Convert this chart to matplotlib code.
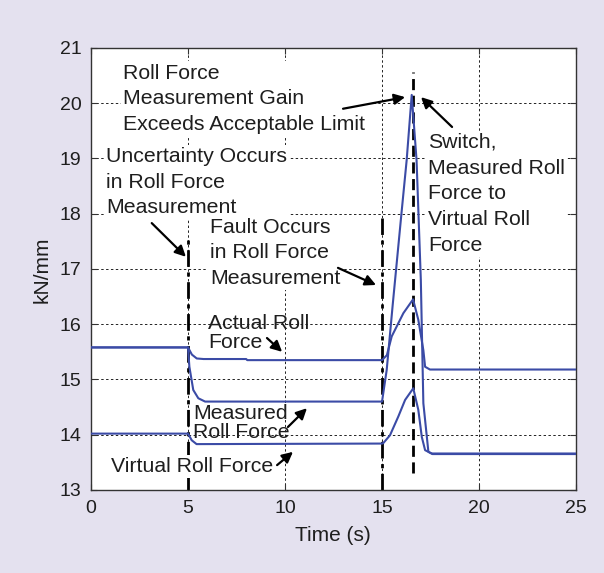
import matplotlib
matplotlib.use("Agg")
import matplotlib.pyplot as plt

plt.rcParams['font.family'] = ['Liberation Sans', 'DejaVu Sans']

# curves (time in s, force in kN/mm)
t_actual = [0, 5.0, 5.2, 5.45, 5.8, 8.0, 8.05, 15.0, 15.25, 15.5, 16.1, 16.6, 16.87, 17.13, 17.22, 17.47, 25]
actual = [15.58, 15.58, 15.45, 15.38, 15.37, 15.37, 15.35, 15.35, 15.44, 15.78, 16.2, 16.45, 16.08, 15.53, 15.23, 15.18, 15.18]

t_measured = [0, 5.0, 5.07, 5.27, 5.53, 5.88, 15.0, 15.24, 15.55, 16.0, 16.27, 16.53, 16.78, 17.0, 17.13, 17.39, 17.6, 25]
measured = [15.58, 15.58, 15.23, 14.81, 14.66, 14.6, 14.6, 15.17, 16.35, 18.0, 18.97, 20.15, 18.97, 16.8, 14.57, 13.69, 13.65, 13.65]

t_virtual = [0, 5.0, 5.19, 5.44, 15.0, 15.07, 15.41, 15.84, 16.19, 16.61, 16.87, 17.05, 17.22, 17.56, 25]
virtual = [14.02, 14.02, 13.9, 13.83, 13.84, 13.85, 13.99, 14.33, 14.63, 14.84, 14.45, 13.96, 13.72, 13.66, 13.66]

# event markers: time, from, to
events = [(5.0, 13.0, 17.55), (15.0, 13.0, 17.92), (16.6, 13.3, 20.57)]

x_ticks = [0, 5, 10, 15, 20, 25]
y_ticks = [13, 14, 15, 16, 17, 18, 19, 20, 21]

# text, position, arrow tail, arrow head, line spacing, white box
notes = [
    ("Roll Force\nMeasurement Gain\nExceeds Acceptable Limit", (1.63, 20.08), (12.99, 19.9), (16.19, 20.11), 1.45, True),
    ("Switch,\nMeasured Roll\nForce to\nVirtual Roll\nForce", (17.37, 18.36), (18.61, 19.57), (17.01, 20.11), 1.45, True),
    ("Uncertainty Occurs\nin Roll Force\nMeasurement", (0.77, 18.57), (3.13, 17.83), (4.89, 17.22), 1.45, True),
    ("Fault Occurs\nin Roll Force\nMeasurement", (6.13, 17.29), (12.73, 17.02), (14.69, 16.71), 1.45, True),
    ("Actual Roll\nForce", (6.03, 15.84), (9.07, 15.75), (9.85, 15.5), 1.05, False),
    ("Measured\nRoll Force", (5.26, 14.21), (10.15, 14.14), (11.13, 14.48), 1.05, False),
    ("Virtual Roll Force", (1.03, 13.42), (9.59, 13.45), (10.41, 13.69), 1.0, True),
]

line_color = '#3b4ba6'
text_color = '#1e1e1e'

fig = plt.figure(figsize=(6.04, 5.73), dpi=100, facecolor='#e4e1ef')
ax = fig.add_axes([0.1507, 0.1449, 0.8030, 0.7714])

ax.set_xlim(0, 25)
ax.set_ylim(13, 21)
ax.set_xticks(x_ticks)
ax.set_yticks(y_ticks)

ax.grid(True, color='#222222', linestyle=(0, (2.5, 2.5)), linewidth=0.7, zorder=1)
ax.set_axisbelow(True)

for tt, vv in [(t_actual, actual), (t_measured, measured), (t_virtual, virtual)]:
    ax.plot(tt, vv, color=line_color, linewidth=1.5, zorder=5)

styles = [(0, (6, 2, 1.5, 2)), (0, (6, 2, 1.5, 2)), (0, (4, 2))]
for (te, y0, y1), ls in zip(events, styles):
    ax.plot([te, te], [y0, y1], color='k', linewidth=2.0, linestyle=ls, zorder=2)

for txt, pos, tail, head, lsp, boxed in notes:
    box = dict(facecolor='white', edgecolor='none', pad=1.5) if boxed else None
    ax.text(pos[0], pos[1], txt, ha='left', va='center', fontsize=15.3, color=text_color,
            linespacing=lsp, zorder=4, bbox=box)
    ax.annotate('', xy=head, xytext=tail, zorder=6,
                arrowprops=dict(arrowstyle='-|>', color='k', lw=1.6, mutation_scale=16,
                                shrinkA=0, shrinkB=0))

ax.tick_params(direction='in', top=True, right=True, length=4, width=0.8,
               labelsize=14, labelcolor=text_color, pad=7, color='#333333')
for sp in ax.spines.values():
    sp.set_color('#333333')
    sp.set_linewidth(1.0)

ax.set_xlabel('Time (s)', fontsize=15, color=text_color, va='center')
ax.xaxis.set_label_coords(0.499, -0.102)
ax.set_ylabel('kN/mm', fontsize=15, color=text_color, va='center')
ax.yaxis.set_label_coords(-0.101, 0.498)

fig.savefig('out.png', dpi=100, facecolor=fig.get_facecolor())
